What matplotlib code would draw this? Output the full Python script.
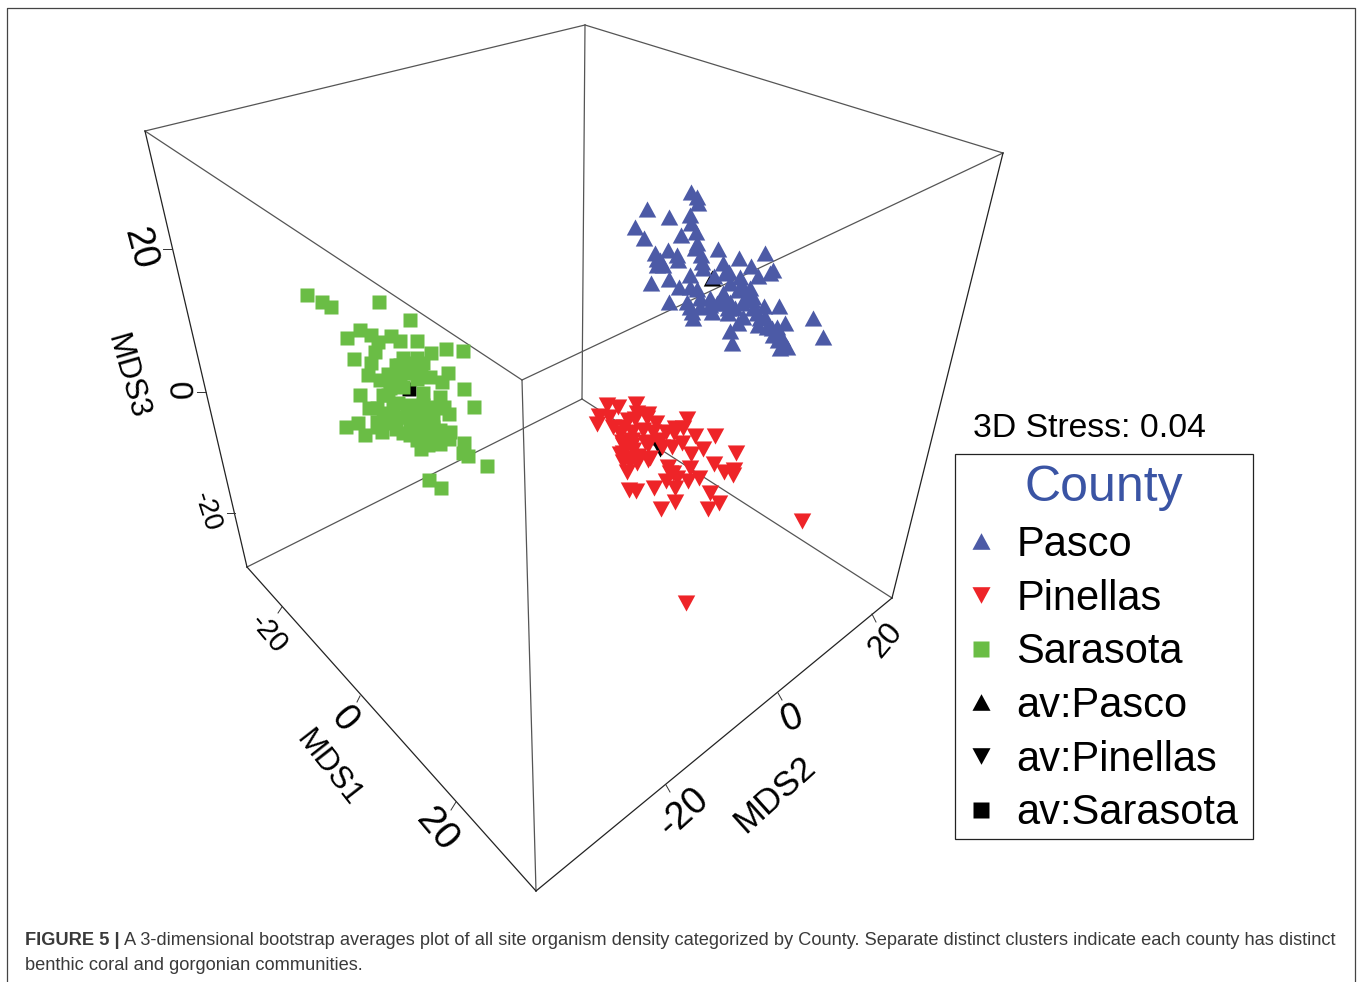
import numpy as np
import matplotlib
matplotlib.use("Agg")
import matplotlib.pyplot as plt
from matplotlib.lines import Line2D
from matplotlib.patches import Rectangle

plt.rcParams['font.family'] = ['Liberation Sans', 'DejaVu Sans']

pasco_crop = [(242,65),(262,80),(265,100),(110,118),(177,140),(241,135),(75,170),(242,160),(103,205),(212,195),
 (258,185),(260,218),(135,250),(175,240),(200,255),(140,268),(140,285),(160,285),(205,270),(272,255),(275,275),
 (280,295),(323,238),(340,280),(388,265),(465,250),(422,288),(490,300),(480,310),(443,318),(358,305),(345,310),
 (240,315),(178,328),(124,338),(207,350),(240,350),(262,358),(313,318),(390,320),(395,345),(420,355),(340,370),
 (345,380),(360,395),(178,395),(232,395),(240,410),(245,425),(250,445),(305,425),(355,415),(375,415),(400,440),
 (425,390),(430,415),(462,408),(507,408),(450,445),(385,458),(445,465),(360,482),(485,475),(525,460),(490,495),
 (510,495),(610,443),(638,502),(367,520),(510,535),(530,530),(270,385),(300,385),(330,395),
 (360,340),(385,360),(410,375),(440,430),(340,400),(320,400),(355,430),(395,400),(270,410),(300,405),
 (430,380),(465,440),(470,470),(500,470),(505,510),(515,505),(150,270),(255,235)]
pinellas_crop = [(80,45),(113,50),(167,42),(58,78),(88,80),(52,102),(170,70),(203,72),(200,85),(145,90),(165,88),
 (98,112),(133,110),(227,100),(320,88),(285,115),(310,115),(155,125),(190,120),(220,125),(257,125),(283,130),
 (345,138),(405,137),(125,155),(155,150),(155,165),(195,155),(205,165),(240,150),(246,170),(305,160),(275,170),
 (370,177),(333,192),(467,188),(120,193),(145,205),(175,198),(210,205),(170,220),(205,210),(403,222),(265,232),
 (330,235),(140,245),(433,247),(462,240),(458,255),(357,263),(258,272),(290,265),(323,272),(285,295),(223,293),
 (147,300),(168,304),(390,310),(285,337),(417,340),(243,358),(384,358),(666,393),(318,638),
 (130,190),(160,180),(150,215),(130,215),(120,130),(130,165),(280,250),(270,250)]
sarasota_crop = [(51,45),(96,66),(124,82),(267,66),(360,120),(210,150),(172,175),(243,165),(303,167),(330,183),
 (380,183),(265,185),(255,215),(423,220),(468,207),(520,214),(192,237),(243,250),(340,235),(380,235),(318,255),
 (392,270),(295,282),(234,285),(270,300),(350,280),(420,292),(474,279),(457,305),(523,328),(300,325),(339,321),
 (380,297),(295,345),(399,340),(211,346),(450,350),(553,382),(461,382),(237,383),(325,370),(415,380),(478,403),
 (278,403),(350,400),(430,410),(260,425),(203,430),(169,442),(226,466),(275,457),(317,448),(360,440),(360,465),
 (410,430),(400,460),(450,450),(480,455),(478,478),(394,508),(415,495),(450,492),(522,489),(519,518),(535,528),
 (592,559),(417,600),(453,624),(370,440),(320,410),
 (330,255),(360,250),(400,250),(300,300),(380,270),(330,285),(280,345),(310,375),(260,385),(300,400),(370,380),
 (400,400),(330,410),(390,430),(430,440),(340,460),(440,470),(420,480),(380,480),(300,430),(265,440),(370,410),
 (445,385),(400,375),(360,375)]
av_pasco_crop = [(307,324)]
av_pinellas_crop = [(240,176)]
av_sarasota_crop = [(356,328)]

pasco_origin = (610, 170)
pinellas_origin = (580, 390)
sarasota_origin = (290, 280)

legend_labels = ['Pasco', 'Pinellas', 'Sarasota', 'av:Pasco', 'av:Pinellas', 'av:Sarasota']

# Cube corners as projected on the page
corner = dict(top=(585,25), left=(145,131), right=(1003,153), mid=(522,380),
              back=(582,399), bl=(247,567), br=(892,598), front=(536,891))
thin_edges = [('left','top'),('top','right'),('left','mid'),('right','mid'),('mid','front'),
              ('top','back'),('back','bl'),('back','br')]
axis_edges = [('left','bl'),('right','br'),('bl','front'),('br','front')]

tick_segments = [((163,249),(172,249)),((197,392),(206,392)),((227,513),(235,513)),
                 ((282,607),(278,613)),((360,696),(357,702)),((456,802),(451,810)),
                 ((666,785),(670,792)),((778,693),(782,700)),((872,614),(876,622))]
tick_text = [('20',139,249,-75,27),('0',177,391,-88,24),('-20',207,512,-72,20),
             ('-20',268,634,-50,21),('0',344,720,-50,27),('20',437,830,-50,28),
             ('-20',684,812,42,27),('0',792,719,20,27),('20',886,640,50,23)]
axis_titles = [('MDS3',127,377,-74,22.5),('MDS1',328,768,-52,22.5),('MDS2',775,795,42,25)]


def to_page(points, origin):
    arr = np.array(points, dtype=float)
    return arr[:, 0] / 3 + origin[0], arr[:, 1] / 3 + origin[1]


BLUE, RED, GREEN = '#4c5aa6', '#ee2428', '#6abd45'
UP = [(-1, -0.92), (1, -0.92), (0, 0.92)]
DOWN = [(-1, 0.92), (1, 0.92), (0, -0.92)]

fig = plt.figure(figsize=(13.6, 9.82), dpi=100, facecolor='white')
ax = fig.add_axes([0, 0, 1, 1])
ax.set_xlim(0, 1360)
ax.set_ylim(982, 0)
ax.axis('off')

# outer page frame, open at the bottom
ax.plot([7, 7, 1355, 1355], [982, 8, 8, 982], color='#444444', lw=0.9, zorder=1)

for a, b in thin_edges:
    ax.plot(*zip(corner[a], corner[b]), color='#555555', lw=0.9, zorder=2)
for a, b in axis_edges:
    ax.plot(*zip(corner[a], corner[b]), color='#222222', lw=0.9, zorder=2)
for p, q in tick_segments:
    ax.plot(*zip(p, q), color='#333333', lw=0.7, zorder=2)

for s, x, y, rot, fs in tick_text:
    ax.text(x, y, s, rotation=rot, fontsize=fs, ha='center', va='center', rotation_mode='anchor', color='black')
for s, x, y, rot, fs in axis_titles:
    ax.text(x, y, s, rotation=rot, fontsize=fs, ha='center', va='center', rotation_mode='anchor', color='black')

TRI, SQ = 12.6, 10.6
# averages sit underneath the bootstrap samples
for pts, org, mk, ms in [(av_pasco_crop, pasco_origin, UP, TRI),
                         (av_pinellas_crop, pinellas_origin, DOWN, TRI),
                         (av_sarasota_crop, sarasota_origin, 's', SQ)]:
    x, y = to_page(pts, org)
    ax.plot(x, y, ls='none', marker=mk, ms=ms, mfc='black', mec='none', zorder=3)

for pts, org, mk, ms, col in [(pasco_crop, pasco_origin, UP, TRI, BLUE),
                              (pinellas_crop, pinellas_origin, DOWN, TRI, RED),
                              (sarasota_crop, sarasota_origin, 's', SQ, GREEN)]:
    x, y = to_page(pts, org)
    ax.plot(x, y, ls='none', marker=mk, ms=ms, mfc=col, mec='none', zorder=4)

ax.text(973, 437, '3D Stress: 0.04', fontsize=24.3, ha='left', va='baseline', color='black')

handles = [Line2D([], [], ls='none', marker=m, ms=s, mfc=c, mec='none')
           for m, s, c in [(UP, 13, BLUE), (DOWN, 13, RED), ('s', 11, GREEN),
                           (UP, 13, 'black'), (DOWN, 13, 'black'), ('s', 11, 'black')]]
ax.add_patch(Rectangle((955, 454), 298, 385, fc='white', ec='#222222', lw=0.9, zorder=4.5))
leg = ax.legend(handles, legend_labels, title='County', fontsize=30, title_fontsize=36,
                loc='upper left', bbox_to_anchor=(955/1360, 1 - 455/982, 298/1360, 0), bbox_transform=fig.transFigure,
                mode='expand', frameon=False,
                borderaxespad=0, borderpad=0.24, labelspacing=0.33, handlelength=0.77, handletextpad=0.46,
                labelcolor='black')
leg.get_title().set_color('#3a54a4')
leg.set_zorder(5)

CAPTION_COLOR = '#3a3a3a'
CAPTION_SIZE = 13.12
r = fig.canvas.get_renderer()
bold = ax.text(25, 945, 'FIGURE 5 |', fontsize=CAPTION_SIZE, fontweight='bold', ha='left', va='baseline', color=CAPTION_COLOR)
bw = bold.get_window_extent(r).width
ax.text(25 + bw + 4, 945, 'A 3-dimensional bootstrap averages plot of all site organism density categorized by County. '
        'Separate distinct clusters indicate each county has distinct', fontsize=CAPTION_SIZE, ha='left', va='baseline', color=CAPTION_COLOR)
ax.text(25, 970, 'benthic coral and gorgonian communities.', fontsize=CAPTION_SIZE, ha='left', va='baseline', color=CAPTION_COLOR)

fig.savefig('out.png', dpi=100, facecolor='white')
